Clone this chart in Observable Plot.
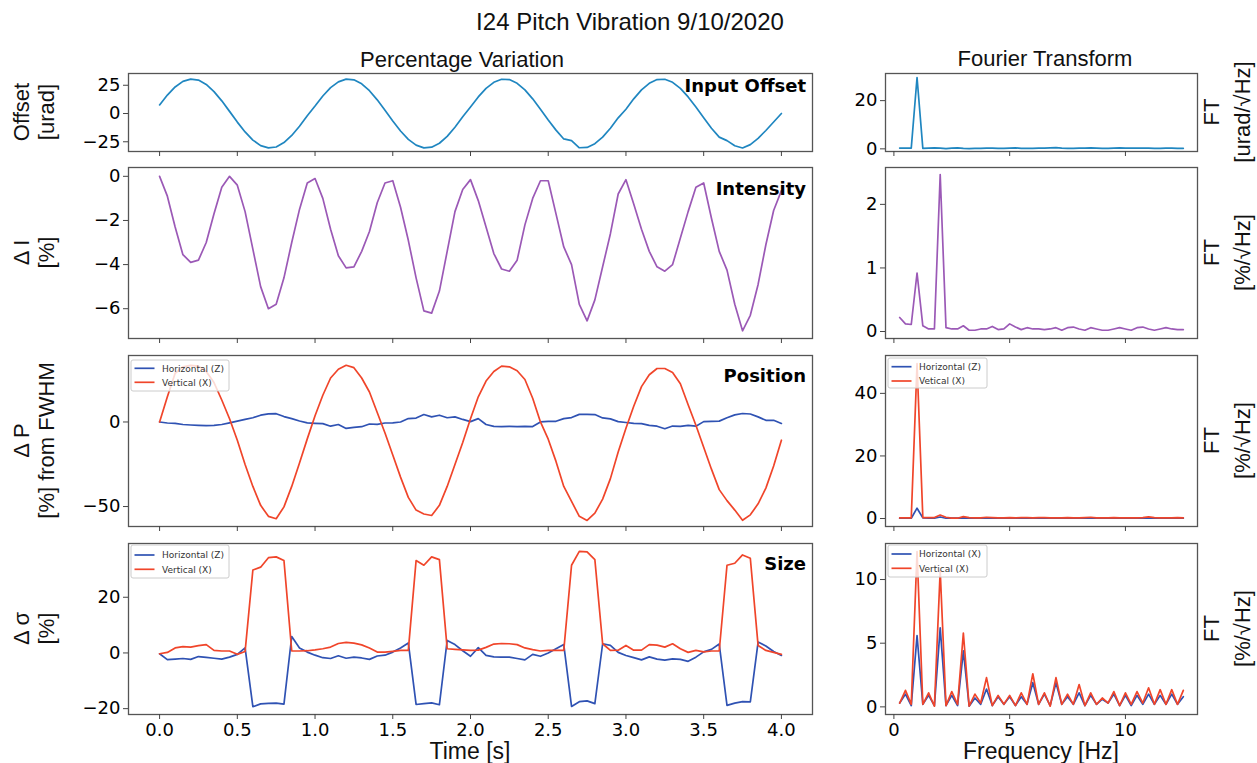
<!DOCTYPE html>
<html><head><meta charset="utf-8">
<script src="https://cdn.jsdelivr.net/npm/d3@7"></script>
<script src="https://cdn.jsdelivr.net/npm/@observablehq/plot@0.6"></script>
<style>
html,body{margin:0;padding:0;background:#fff;}
#fig{position:relative;width:1257px;height:763px;overflow:hidden;background:#fff;}
#fig svg{position:absolute;}
</style></head><body><div id="fig"></div>
<script>
// ---------- data ----------
const time = [0,0.05,0.1,0.15,0.2,0.25,0.3,0.35,0.4,0.45,0.5,0.55,0.6,0.65,0.7,0.75,0.8,0.85,0.9,0.95,
1,1.05,1.1,1.15,1.2,1.25,1.3,1.35,1.4,1.45,1.5,1.55,1.6,1.65,1.7,1.75,1.8,1.85,1.9,1.95,
2,2.05,2.1,2.15,2.2,2.25,2.3,2.35,2.4,2.45,2.5,2.55,2.6,2.65,2.7,2.75,2.8,2.85,2.9,2.95,
3,3.05,3.1,3.15,3.2,3.25,3.3,3.35,3.4,3.45,3.5,3.55,3.6,3.65,3.7,3.75,3.8,3.85,3.9,3.95,4];

const offset = [7.6,16.3,23.5,28.4,30.4,29.6,25.7,19.4,11.2,1.9,-7.6,-16.3,-23.5,-28.4,-30.4,-29.6,-25.7,-19.4,-11.2,-1.9,
6.6,15.5,22.9,28.0,30.4,29.8,26.3,20.2,12.1,2.9,-6.6,-15.5,-22.9,-28.0,-30.4,-29.8,-26.3,-20.2,-12.1,-2.9,
5.7,14.7,22.2,27.6,30.3,30.0,26.7,20.9,13.0,3.8,-5.7,-14.7,-22.5,-24.0,-30.3,-30.0,-26.7,-20.9,-13.0,-3.8,
3.8,13.0,20.9,26.7,30.0,30.3,27.6,22.2,14.7,5.7,-3.8,-13.0,-20.9,-24.0,-28.5,-30.5,-27.5,-22.0,-15.0,-7.5,0.0];

const intensity = [0,-0.9,-2.3,-3.55,-3.9,-3.8,-3.0,-1.7,-0.5,0.0,
-0.4,-1.6,-3.3,-5.0,-6.0,-5.8,-4.6,-3.0,-1.5,-0.3,
-0.1,-1.0,-2.4,-3.6,-4.15,-4.1,-3.4,-2.5,-1.2,-0.3,
-0.2,-1.4,-2.9,-4.6,-6.1,-6.2,-5.2,-3.4,-1.6,-0.6,
-0.15,-1.1,-2.3,-3.5,-4.2,-4.3,-3.8,-2.2,-1.0,-0.2,
-0.2,-1.7,-3.2,-4.0,-5.8,-6.55,-5.6,-4.1,-2.6,-0.8,
-0.15,-1.25,-2.4,-3.4,-4.1,-4.3,-4.0,-2.8,-1.6,-0.5,
-0.3,-1.9,-3.4,-4.25,-5.8,-7.0,-6.3,-4.9,-3.1,-1.55,-0.65];

const posH = [0,-0.6,-0.8,-1.5,-1.8,-2.0,-2.2,-2.0,-1.5,-0.5,
0.5,1.5,2.5,4.0,4.8,4.9,3.2,2.0,0.6,-0.5,
-0.8,-1.0,-2.5,-1.5,-3.8,-3.2,-2.8,-1.2,-1.4,-0.6,
-0.5,0.0,2.0,2.3,4.4,3.0,4.0,2.5,3.0,1.5,
0.2,2.0,-1.5,-2.6,-2.8,-2.6,-2.8,-2.6,-2.7,0.0,
0.3,0.4,2.0,2.6,4.5,4.5,4.4,2.4,1.8,0.2,
-0.3,-0.8,-1.0,-2.0,-2.5,-4.0,-2.4,-2.6,-2.0,-2.5,
0.2,0.4,0.5,2.5,4.2,5.0,4.7,3.0,1.0,1.0,-0.9];

const posV = [0,14.9,28.8,32.6,33.5,33.0,29.8,23.3,13.0,1.9,
-10.8,-25.1,-38.1,-49.3,-55.8,-57.2,-50.2,-38.1,-24.2,-10.0,
3.7,15.8,26.0,31.2,33.5,32.1,26.0,17.7,5.6,-6.5,
-19.5,-32.6,-44.6,-52.1,-54.4,-55.3,-49.3,-38.1,-25.1,-12.1,
1.9,14.9,24.2,29.8,33.0,32.6,30.3,25.1,14.0,0,
-10.2,-23.3,-38.1,-47.0,-55.8,-58.2,-53.9,-45.6,-33.5,-17.7,
-3.7,9.3,20.9,27.9,31.6,31.6,29.3,22.6,10.2,-1.9,
-14.9,-27.9,-40.0,-46.5,-52.1,-58.1,-54.9,-48.4,-39.1,-26.0,-10.8];

const sizeH = [-0.3,-2.4,-2.2,-2.0,-2.3,-1.3,-1.6,-1.9,-2.2,-1.5,
-0.5,1.8,-19.3,-18.3,-18.1,-18.0,-18.4,5.9,1.8,0.3,
-0.8,-1.7,-2.0,-1.0,-1.9,-1.5,-1.8,-2.3,-1.1,-0.8,
0.3,1.8,3.6,-18.5,-18.2,-17.9,-18.6,4.5,3.0,0.8,
-1.2,1.9,-0.9,-1.4,-1.5,-1.5,-2.0,-2.5,-0.5,-1.2,
0.0,1.5,3.0,-19.2,-17.5,-17.2,-18.2,3.3,2.7,0.2,
-0.9,-1.7,-2.5,-1.4,-2.2,-2.6,-2.1,-2.3,-3.0,-1.5,
0.4,1.3,3.2,-18.8,-18.0,-17.5,-17.6,3.9,2.5,0.5,-0.9];

const sizeV = [-0.3,0.2,1.8,2.3,2.1,2.6,3.0,0.9,0.7,0.7,
-0.5,0.5,29.8,30.8,34.2,34.5,33.2,0.7,0.7,0.8,
1.1,1.5,2.1,3.4,3.8,3.5,2.9,1.8,0.3,0.3,
0.6,0.9,0.9,33.2,31.5,34.5,33.5,1.5,1.3,1.1,
0.9,1.0,2.0,3.2,3.4,3.3,3.0,1.8,1.2,0.7,
0.9,0.9,0.9,31.5,36.5,36.3,33.5,3.3,0.9,1.0,
2.7,1.0,1.0,3.0,2.8,2.1,3.3,1.5,0.2,0.9,
0.4,0.7,0.7,31.5,32.2,35.2,34.0,2.7,0.9,0.2,-0.5];

const freq = [0.25,0.5,0.75,1,1.25,1.5,1.75,2,2.25,2.5,2.75,3,3.25,3.5,3.75,4,4.25,4.5,4.75,5,
5.25,5.5,5.75,6,6.25,6.5,6.75,7,7.25,7.5,7.75,8,8.25,8.5,8.75,9,9.25,9.5,9.75,10,
10.25,10.5,10.75,11,11.25,11.5,11.75,12,12.25,12.5];

const offsetFT = [0.3,0.3,0.3,29.6,0.2,0.3,0.4,0.3,0.1,0.3,0.4,0.2,0.1,0.2,0.2,0.3,0.3,0.2,0.2,0.3,
0.4,0.2,0.2,0.2,0.3,0.3,0.4,0.5,0.3,0.2,0.2,0.3,0.3,0.4,0.3,0.2,0.2,0.3,0.4,0.3,
0.3,0.3,0.3,0.3,0.2,0.2,0.3,0.3,0.2,0.2];

const intensityFT = [0.22,0.12,0.11,0.92,0.09,0.04,0.04,2.47,0.06,0.04,0.04,0.09,0.02,0.02,0.04,0.04,0.08,0.03,0.04,0.12,
0.07,0.03,0.06,0.04,0.04,0.03,0.04,0.06,0.02,0.06,0.07,0.04,0.02,0.06,0.04,0.02,0.02,0.04,0.06,0.04,
0.02,0.06,0.07,0.04,0.02,0.04,0.06,0.04,0.03,0.03];

const posFT_H = [0.1,0.1,0.1,3.3,0.2,0.1,0.1,0.5,0.1,0.1,0.1,0.2,0.1,0.1,0.1,0.2,0.1,0.1,0.1,0.1,
0.1,0.1,0.1,0.1,0.2,0.1,0.1,0.1,0.1,0.1,0.1,0.1,0.1,0.1,0.1,0.1,0.1,0.1,0.1,0.1,
0.1,0.1,0.1,0.2,0.1,0.1,0.1,0.1,0.1,0.1];

const posFT_V = [0.2,0.2,0.2,49.5,0.3,0.3,0.3,1.1,0.4,0.1,0.1,0.6,0.3,0.2,0.2,0.4,0.3,0.2,0.2,0.3,
0.2,0.3,0.3,0.2,0.3,0.3,0.2,0.2,0.2,0.3,0.2,0.2,0.3,0.4,0.2,0.2,0.2,0.3,0.2,0.2,
0.2,0.2,0.3,0.5,0.3,0.2,0.2,0.2,0.3,0.2];

const sizeFT_H = [0.3,1.0,0.1,5.6,0.2,0.9,0.1,6.2,0.1,0.9,0.1,4.4,0.05,0.7,0.2,1.4,0.1,0.8,0.2,0.8,
0.1,0.8,0.2,1.9,0.2,1.0,0.1,1.9,0.2,0.8,0.2,1.1,0.1,0.9,0.2,0.6,0.3,1.0,0.1,0.9,
0.1,0.9,0.2,1.0,0.2,0.9,0.2,1.0,0.2,0.8];

const sizeFT_V = [0.3,1.3,0.2,12.2,0.2,1.1,0.05,10.7,0.1,1.2,0.2,5.8,0.05,1.0,0.3,2.3,0.1,0.9,0.2,0.9,
0.1,1.1,0.2,2.6,0.2,1.1,0.05,2.3,0.2,1.0,0.2,1.75,0.1,1.1,0.2,0.7,0.3,1.2,0.1,1.1,
0.2,1.2,0.3,1.5,0.2,1.35,0.2,1.35,0.2,1.3];

const timeTicks = [0,0.5,1,1.5,2,2.5,3,3.5,4];
const freqTicks = [0,5,10];
const leftLabels = [["Offset","[urad]"],["\u0394 I","[%]"],["\u0394 P","[%] from FWHM"],["\u0394 \u03c3","[%]"]];
const rightLabels = [["FT","[urad/\u221aHz]"],["FT","[%/\u221aHz]"],["FT","[%/\u221aHz]"],["FT","[%/\u221aHz]"]];
const panelTitles = ["Input Offset","Intensity","Position","Size"];
const legendPosLeft = ["Horizontal (Z)","Vertical (X)"];
const legendPosRight = ["Horizontal (Z)","Vetical (X)"];
const legendSizeRight = ["Horizontal (X)","Vertical (X)"];

// ---------- styles ----------
const C = {offset:"#1f86c0", purple:"#9b59b6", blue:"#2f52b3", red:"#f0452a"};
const rowsY = [[73,151],[167,338],[355,526],[543,714]];
const colX = {L:[128,812], R:[885,1197]};
const fig = document.getElementById("fig");
const minus = d => (d < 0 ? "\u2212" : "") + Math.abs(d);

function panel(cfg) {
  const [fx0, fx1] = colX[cfg.col];
  const [fy0, fy1] = rowsY[cfg.row];
  const ml = 70, mr = 10, mt = 10, mb = 45;
  const W = (fx1 - fx0) + ml + mr, H = (fy1 - fy0) + mt + mb;
  const xfmt = cfg.col === "L" ? (d => d.toFixed(1)) : (d => String(d));
  const marks = cfg.series.map(([xs, ys, color]) =>
    Plot.line(xs.map((x, i) => ({x, y: ys[i]})), {x: "x", y: "y", stroke: color, strokeWidth: 1.7}));
  marks.push(Plot.frame({stroke: "#555", strokeWidth: 1.3}));
  marks.push(Plot.axisY({ticks: cfg.yticks, tickSize: 5, tickPadding: 3, tickFormat: minus, label: null, stroke: "#444", fontSize: 18}));
  marks.push(Plot.axisX({ticks: cfg.col === "L" ? timeTicks : freqTicks, tickSize: 5, tickPadding: 4,
    tickFormat: cfg.row === 3 ? xfmt : (() => ""), label: null, stroke: "#444", fontSize: 18}));
  const svg = Plot.plot({
    width: W, height: H, marginLeft: ml, marginRight: mr, marginTop: mt, marginBottom: mb,
    x: {domain: cfg.col === "L" ? [-0.2, 4.2] : [-0.3625, 13.1125]},
    y: {domain: cfg.ydomain},
    style: {fontFamily: "DejaVu Sans", fontSize: "18px", color: "#000", background: "transparent", overflow: "visible"},
    marks
  });
  svg.style.position = "absolute";
  svg.style.left = (fx0 - ml) + "px";
  svg.style.top = (fy0 - mt) + "px";
  svg.style.maxWidth = "none";
  fig.appendChild(svg);
}

panel({col:"L", row:0, ydomain:[-33.6,35.4], yticks:[-25,0,25], series:[[time, offset, C.offset]]});
panel({col:"L", row:1, ydomain:[-7.35,0.4], yticks:[-6,-4,-2,0], series:[[time, intensity, C.purple]]});
panel({col:"L", row:2, ydomain:[-61.8,39.3], yticks:[-50,0], series:[[time, posH, C.blue],[time, posV, C.red]]});
panel({col:"L", row:3, ydomain:[-22.1,39.3], yticks:[-20,0,20], series:[[time, sizeH, C.blue],[time, sizeV, C.red]]});
panel({col:"R", row:0, ydomain:[-1.1,31.25], yticks:[0,20], series:[[freq, offsetFT, C.offset]]});
panel({col:"R", row:1, ydomain:[-0.11,2.58], yticks:[0,1,2], series:[[freq, intensityFT, C.purple]]});
panel({col:"R", row:2, ydomain:[-2.55,52.1], yticks:[0,20,40], series:[[freq, posFT_H, C.blue],[freq, posFT_V, C.red]]});
panel({col:"R", row:3, ydomain:[-0.6,12.83], yticks:[0,5,10], series:[[freq, sizeFT_H, C.blue],[freq, sizeFT_V, C.red]]});

// ---------- overlay text ----------
const ov = d3.select(fig).append("svg").attr("width", 1257).attr("height", 763)
  .style("left", "0px").style("top", "0px");
const SANS = "Liberation Sans, Arial, sans-serif";
function text(x, y, s, o = {}) {
  const t = ov.append("text").attr("x", x).attr("y", y).text(s)
    .attr("font-family", o.family || SANS).attr("font-size", o.size || 22)
    .attr("text-anchor", o.anchor || "middle").attr("fill", o.fill || "#111");
  if (o.weight) t.attr("font-weight", o.weight);
  return t;
}
function vtext(x, y, s, o = {}) {
  ov.append("text").attr("transform", `translate(${x},${y}) rotate(-90)`).text(s)
    .attr("font-family", SANS).attr("font-size", o.size || 22)
    .attr("text-anchor", "middle").attr("fill", "#111");
}
text(630, 30, "I24 Pitch Vibration 9/10/2020", {size: 24});
text(462, 67, "Percentage Variation", {size: 22});
text(1045, 66, "Fourier Transform", {size: 22});
text(470, 759, "Time [s]", {size: 23});
text(1041, 759, "Frequency [Hz]", {size: 23});

rowsY.forEach(([a, b], i) => {
  const c = (a + b) / 2;
  vtext(28.5, c, leftLabels[i][0]);
  vtext(53.5, c, leftLabels[i][1]);
  vtext(1218.5, c, rightLabels[i][0]);
  vtext(1249.5, c, rightLabels[i][1]);
});

const titleY = [91.7, 195, 381.7, 570];
panelTitles.forEach((s, i) => text(806, titleY[i], s, {family: "DejaVu Sans", size: 18, weight: "bold", anchor: "end", fill: "#000"}));

function legend(x, y, w, h, ly, labels) {
  ov.append("rect").attr("x", x).attr("y", y).attr("width", w).attr("height", h).attr("rx", 2)
    .attr("fill", "#fff").attr("fill-opacity", 0.8).attr("stroke", "#ccc").attr("stroke-width", 1);
  [C.blue, C.red].forEach((col, i) => {
    ov.append("line").attr("x1", x + 3.5).attr("x2", x + 23.5).attr("y1", ly[i]).attr("y2", ly[i])
      .attr("stroke", col).attr("stroke-width", 1.7);
    text(x + 31, ly[i] + 3.2, labels[i], {family: "DejaVu Sans", size: 9, anchor: "start", fill: "#333"});
  });
}
legend(131, 360, 98, 31, [368.3, 382.3], legendPosLeft);
legend(131, 545, 98, 33, [555, 569.3], legendPosLeft);
legend(888, 358, 99, 30, [366.7, 381], legendPosRight);
legend(888, 545, 99, 32, [554, 568.3], legendSizeRight);
</script></body></html>
